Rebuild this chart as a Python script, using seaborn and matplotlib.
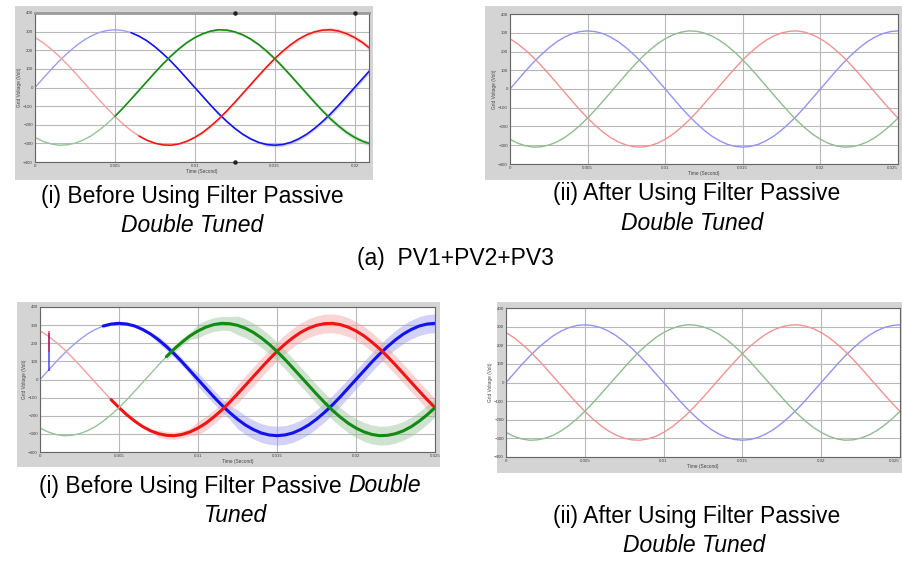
import numpy as np
import matplotlib
matplotlib.use("Agg")
import matplotlib.pyplot as plt
import seaborn as sns
from matplotlib.patches import Rectangle

sns.set_theme(style="white")
plt.rcParams['font.family'] = ['Liberation Sans', 'DejaVu Sans']

# ---------------- data ----------------
# sample times (s), one sample every 0.5 ms
time_s = np.round(np.arange(51) * 0.0005, 4)

# grid voltage of the three phases (V)
phase_blue = [0, 48, 96, 141, 182, 219, 251, 276, 295, 306, 310,
              306, 295, 276, 251, 219, 182, 141, 96, 48, 0,
              -48, -96, -141, -182, -219, -251, -276, -295, -306, -310,
              -306, -295, -276, -251, -219, -182, -141, -96, -48, 0,
              48, 96, 141, 182, 219, 251, 276, 295, 306, 310]
phase_red = [268, 241, 207, 169, 126, 80, 32, -16, -64, -111,
             -155, -195, -230, -260, -283, -299, -308, -310, -303, -289,
             -268, -241, -207, -169, -126, -80, -32, 16, 64, 111,
             155, 195, 230, 260, 283, 299, 308, 310, 303, 289,
             268, 241, 207, 169, 126, 80, 32, -16, -64, -111, -155]
phase_green = [-268, -289, -303, -310, -308, -299, -283, -260, -230, -195,
               -155, -111, -64, -16, 32, 80, 126, 169, 207, 241,
               268, 289, 303, 310, 308, 299, 283, 260, 230, 195,
               155, 111, 64, 16, -32, -80, -126, -169, -207, -241,
               -268, -289, -303, -310, -308, -299, -283, -260, -230, -195, -155]

# half-width of the harmonic ripple band (V) before filtering
ripple_top = [0] * 13 + [4] * 8 + [7] * 8 + [10] * 8 + [13] * 14
ripple_bottom = [0] * 8 + [7] * 7 + [20] * 5 + [38] * 5 + [52] * 26
# sample index where each trace turns dark / noisy
dark_from_top = {'blue': 12, 'red': 13, 'green': 10}
dark_from_bottom = {'blue': 8, 'red': 9, 'green': 16}

# start-up transient spikes in the bottom-left panel
spike_time = [0.0006, 0.0006]
spike_low = [45, 150]
spike_high = [255, 265]
spike_phase = ['blue', 'red']

# visible time span of each panel (top-left screenshot is cropped)
x_end_top_left = 0.0209
x_end_others = 0.025
x_ticks = [0, 0.005, 0.01, 0.015, 0.02, 0.025]
x_tick_labels = ['0', '0.005', '0.01', '0.015', '0.02', '0.025']
y_ticks = [-400, -300, -200, -100, 0, 100, 200, 300, 400]

series = {'blue': phase_blue, 'red': phase_red, 'green': phase_green}
dark_col = {'blue': '#1212ee', 'red': '#f01414', 'green': '#138a13'}
light_col = {'blue': '#9d9df0', 'red': '#f2a0a0', 'green': '#98c298'}
after_col = {'blue': '#9393f0', 'red': '#f09393', 'green': '#90bc90'}

W, H = 902, 562
fig = plt.figure(figsize=(W / 100, H / 100), dpi=100)
fig.patch.set_facecolor('white')


def px_axes(x0, y0, x1, y1):
    return fig.add_axes([x0 / W, 1 - y1 / H, (x1 - x0) / W, (y1 - y0) / H])


def gray_frame(x0, y0, x1, y1):
    fig.add_artist(Rectangle((x0 / W, 1 - y1 / H), (x1 - x0) / W, (y1 - y0) / H,
                             transform=fig.transFigure, facecolor='#d4d4d4',
                             edgecolor='none', zorder=0))


def style_axes(ax, x_end):
    ax.set_xlim(0, x_end)
    ax.set_ylim(-400, 400)
    ax.set_xticks(x_ticks)
    ax.set_xticklabels(x_tick_labels)
    ax.set_xlim(0, x_end)
    ax.set_yticks(y_ticks)
    ax.set_facecolor('white')
    ax.grid(True, color='#b8b8b8', lw=0.8)
    ax.tick_params(axis='both', labelsize=3.2, colors='#444444', length=2,
                   direction='in', pad=1.5)
    for s in ax.spines.values():
        s.set_color('#666666')
        s.set_linewidth(0.8)
    ax.set_xlabel('Time (Second)', fontsize=3.4, color='#444444', labelpad=1)
    ax.set_ylabel('Grid Voltage (Volt)', fontsize=3.4, color='#444444', labelpad=1)
    ax.set_zorder(2)


def draw_before(ax, ripple, dark_from, lw_dark, band_alpha):
    for name in ['blue', 'red', 'green']:
        vals = np.array(series[name], dtype=float)
        sns.lineplot(x=time_s, y=vals, ax=ax, color=light_col[name], lw=1.0,
                     estimator=None, sort=False)
        k = dark_from[name]
        env = np.array(ripple, dtype=float)[k:]
        ax.fill_between(time_s[k:], vals[k:] - env, vals[k:] + env,
                        color=light_col[name], alpha=band_alpha, lw=0)
        sns.lineplot(x=time_s[k:], y=vals[k:], ax=ax, color=dark_col[name],
                     lw=lw_dark, estimator=None, sort=False)


def draw_after(ax):
    for name in ['blue', 'red', 'green']:
        sns.lineplot(x=time_s, y=series[name], ax=ax, color=after_col[name],
                     lw=1.0, estimator=None, sort=False)


# ---- top-left: before filter (PV1+PV2+PV3)
gray_frame(15, 6, 373, 180)
ax1 = px_axes(35, 13, 369, 162)
draw_before(ax1, ripple_top, dark_from_top, 1.1, 0.45)
style_axes(ax1, x_end_top_left)
ax1.spines['top'].set_linewidth(2.0)
ax1.spines['top'].set_color('#9a9a9a')
ax1.scatter([0.0125, 0.0125, 0.02], [400, -400, 400], s=5, color='#222222',
            clip_on=False, zorder=5)

# ---- top-right: after filter
gray_frame(485, 6, 902, 180)
ax2 = px_axes(510, 14, 898, 164)
draw_after(ax2)
style_axes(ax2, x_end_others)
ax2.get_xticklabels()[-1].set_ha('right')

# ---- bottom-left: before filter
gray_frame(17, 302, 440, 467)
ax3 = px_axes(40, 307, 435, 452)
draw_before(ax3, ripple_bottom, dark_from_bottom, 2.2, 0.45)
for t, lo, hi, ph in zip(spike_time, spike_low, spike_high, spike_phase):
    ax3.vlines(t, lo, hi, color=dark_col[ph], lw=1.2, alpha=0.7)
style_axes(ax3, x_end_others)

# ---- bottom-right: after filter
gray_frame(497, 302, 902, 473)
ax4 = px_axes(506, 308, 900, 457)
draw_after(ax4)
style_axes(ax4, x_end_others)
ax4.get_xticklabels()[-1].set_ha('right')

# ---------------- captions ----------------
FS = 16.5


def caption(xc, y, parts):
    texts = []
    for s, style in parts:
        texts.append(fig.text(0, 1 - y / H, s, fontsize=FS, style=style,
                              ha='left', va='center', color='black'))
    fig.canvas.draw()
    r = fig.canvas.get_renderer()
    widths = [t.get_window_extent(r).width for t in texts]
    x = xc - sum(widths) / 2
    for t, w in zip(texts, widths):
        t.set_x(x / W)
        x += w


caption(192, 196, [('(i) Before Using Filter Passive', 'normal')])
caption(192, 226, [('Double Tuned', 'italic')])
caption(697, 193, [('(ii) After Using Filter Passive', 'normal')])
caption(692, 223, [('Double Tuned', 'italic')])
caption(455, 259, [('(a)  PV1+PV2+PV3', 'normal')])
caption(230, 486, [('(i) Before Using Filter Passive ', 'normal'), ('Double', 'italic')])
caption(236, 516, [('Tuned', 'italic')])
caption(697, 516, [('(ii) After Using Filter Passive', 'normal')])
caption(694, 545, [('Double Tuned', 'italic')])

fig.savefig('out.png', dpi=100, facecolor='white')
